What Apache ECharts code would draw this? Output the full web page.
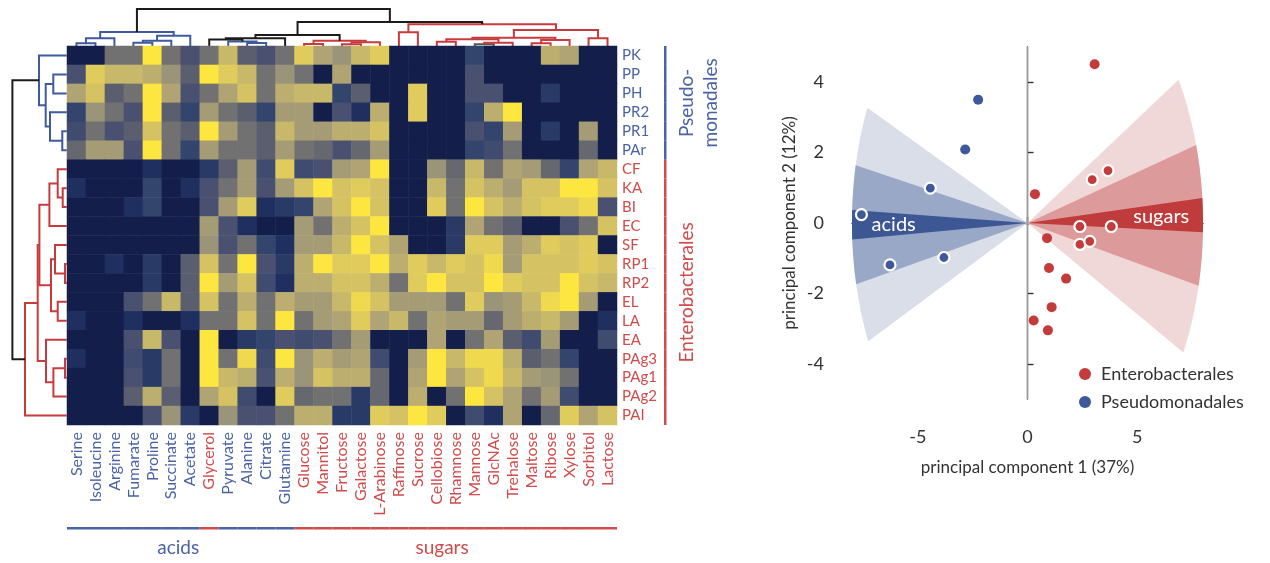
<!DOCTYPE html>
<html>
<head>
<meta charset="utf-8">
<script src="https://cdn.jsdelivr.net/npm/echarts@6/dist/echarts.min.js"></script>
<style>
html, body { margin: 0; padding: 0; background: #fff; }
#main { width: 1270px; height: 563px; }
</style>
</head>
<body>
<div id="main"></div>
<script>
// ---- heatmap: substrates (columns) x strains (rows), growth score 0..10
var substrates = ['Serine', 'Isoleucine', 'Arginine', 'Fumarate', 'Proline', 'Succinate', 'Acetate', 'Glycerol',
    'Pyruvate', 'Alanine', 'Citrate', 'Glutamine', 'Glucose', 'Mannitol', 'Fructose', 'Galactose', 'L-Arabinose',
    'Raffinose', 'Sucrose', 'Cellobiose', 'Rhamnose', 'Mannose', 'GlcNAc', 'Trehalose', 'Maltose', 'Ribose',
    'Xylose', 'Sorbitol', 'Lactose'];
var substrateClass = ['acids', 'acids', 'acids', 'acids', 'acids', 'acids', 'acids', 'sugars',
    'acids', 'acids', 'acids', 'acids', 'sugars', 'sugars', 'sugars', 'sugars', 'sugars',
    'sugars', 'sugars', 'sugars', 'sugars', 'sugars', 'sugars', 'sugars', 'sugars', 'sugars',
    'sugars', 'sugars', 'sugars'];
var strains = ['PK', 'PP', 'PH', 'PR2', 'PR1', 'PAr', 'CF', 'KA', 'BI', 'EC', 'SF', 'RP1', 'RP2', 'EL', 'LA', 'EA',
    'PAg3', 'PAg1', 'PAg2', 'PAI'];
var strainOrder = ['Pseudomonadales', 'Pseudomonadales', 'Pseudomonadales', 'Pseudomonadales', 'Pseudomonadales',
    'Pseudomonadales', 'Enterobacterales', 'Enterobacterales', 'Enterobacterales', 'Enterobacterales',
    'Enterobacterales', 'Enterobacterales', 'Enterobacterales', 'Enterobacterales', 'Enterobacterales',
    'Enterobacterales', 'Enterobacterales', 'Enterobacterales', 'Enterobacterales', 'Enterobacterales'];

var growth = [
    [0, 0, 5, 5, 10, 5, 3, 5, 8, 4, 3, 5, 9, 7, 6, 8, 9, 0, 0, 0, 0, 2, 0, 0, 0, 7.5, 7, 0, 0],
    [3, 9, 8, 8, 7.5, 6, 4, 10, 9, 8, 5, 6, 5, 0, 7, 0, 0, 0, 0, 0, 0, 3, 0, 0, 0, 0, 0, 0, 0],
    [7, 8.5, 4, 5, 10, 7, 3, 5, 7, 8.5, 5, 7.5, 8, 8, 2, 4, 0, 0, 9, 0, 0, 3, 3, 0, 0, 1.5, 0, 0, 0],
    [2, 6, 5, 3, 10, 4, 2, 6.5, 5, 4, 2, 6.5, 6.5, 0, 3, 1, 7.5, 0, 9, 0, 0, 2, 7.5, 10, 0, 0, 0, 0, 0],
    [2.5, 5, 3, 4, 8.5, 5, 4, 10, 6.5, 5, 4, 8, 6.5, 6.5, 7.5, 7.5, 8.5, 0, 0, 0, 0, 3, 2, 6.5, 0, 1.5, 0, 6.5, 0],
    [4.5, 6.5, 6.5, 3, 10, 5, 2, 6.5, 5, 5, 4, 6.5, 5, 4.5, 3, 4.5, 6.5, 0, 0, 0, 0, 2, 2.5, 5, 0, 0, 0, 4.5, 0],
    [0, 0, 0, 0, 1, 0, 0, 1.5, 4, 6.5, 2.5, 9, 2.5, 3, 6.5, 7, 10, 0, 0, 6, 4.5, 8, 5, 7, 6.5, 4.5, 2, 7, 8],
    [1, 0, 0, 0, 2, 0, 1, 3, 5, 6.5, 3, 6.5, 8.5, 10, 8.5, 9, 8.5, 0, 0, 8, 5, 8.5, 7.5, 6.5, 8.5, 8.5, 10, 10, 8.5],
    [0, 0, 0, 1, 2, 0, 0, 3, 6.5, 9, 1, 1.5, 2, 7, 8.5, 10, 8.5, 0, 0, 9, 5, 10, 8.5, 7.5, 8.5, 9, 9, 9.5, 3],
    [0, 0, 0, 0, 0, 0, 0, 6.5, 3, 1, 0, 0, 6.5, 5, 7.5, 8.5, 10, 0, 0, 0, 1.5, 7, 5, 4, 0, 0, 3, 5, 8.5],
    [0, 0, 0, 0, 0, 0, 0, 6, 3, 5, 2, 1, 6.5, 6.5, 8, 10, 8.5, 7, 0, 0, 1.5, 9, 9, 6.5, 7.5, 9, 8.5, 9, 0],
    [0, 0, 1, 0, 1.5, 0, 4, 8.5, 5, 10, 3, 1.5, 7.5, 10, 9, 9, 10, 7.5, 9, 8, 9, 8.5, 9.5, 6.5, 8.5, 8.5, 8.5, 9, 8.5],
    [0, 0, 0, 0, 1.5, 0, 4, 10, 6.5, 8.5, 2.5, 1, 7.5, 7.5, 8.5, 8.5, 7.5, 5, 9, 10, 8.5, 8.5, 10, 9, 8.5, 8.5, 10, 8.5, 8],
    [0, 0, 0, 3, 5, 8, 4, 8.5, 5, 7.5, 5, 7.5, 6.5, 6.5, 8, 9.5, 8.5, 6.5, 6.5, 6.5, 5, 9, 6, 6.5, 8, 9.5, 10, 6.5, 0],
    [1, 0, 0, 1, 0, 0, 1, 5, 5, 8.5, 5, 10, 5, 6.5, 7, 9, 7, 8, 5, 7, 6.5, 6.5, 4.5, 6.5, 7.5, 8, 6.5, 0, 1],
    [0, 0, 0, 3, 8, 3, 0, 10, 0, 1.5, 2, 3, 2.5, 3, 5, 6.5, 0, 0, 0, 7, 0, 5, 7, 4, 2.5, 6.5, 0, 0, 2.5],
    [1, 0, 0, 2.5, 1.5, 5, 0, 10, 5, 9.5, 2.5, 10, 6, 7.5, 6.5, 7, 2.5, 0, 6.5, 10, 8, 9.5, 9.5, 7.5, 4, 5, 2, 0, 0],
    [0, 0, 0, 3, 1.5, 5, 0, 10, 8, 7.5, 3, 7.5, 6, 8.5, 7.5, 7.5, 4.5, 0, 7, 10, 7, 8.5, 9.5, 8, 6.5, 6, 5, 0, 0],
    [0, 0, 0, 4, 7.5, 4, 0, 7, 8.5, 2.5, 0, 9, 4.5, 5, 5, 1.5, 4.5, 0, 7.5, 0, 5, 10, 8.5, 7, 5, 6.5, 2.5, 0, 0],
    [0, 0, 0, 0, 3, 6, 1.5, 0, 6, 3, 3, 5, 7.5, 7.5, 1.5, 1.5, 9, 8.5, 10, 9, 0, 2.5, 1, 7, 0, 4.5, 9, 7, 8.5]
];

// ---- dendrograms: [childA, childB, height, cluster colour]; new clusters numbered after the leaves
var colLinkage = [
    [0, 1, 2.7, 'blue'], [29, 2, 7.7, 'blue'], [3, 4, 3.3, 'blue'], [31, 5, 5.3, 'blue'], [32, 6, 10.3, 'blue'],
    [30, 33, 14, 'blue'], [9, 10, 3, 'blue'], [8, 35, 4.5, 'blue'], [7, 36, 6.5, 'black'], [37, 11, 7.7, 'black'],
    [12, 13, 2, 'red'], [14, 15, 1.7, 'red'], [40, 16, 3.7, 'red'], [39, 41, 5.3, 'red'], [38, 42, 11, 'black'],
    [17, 18, 13.7, 'red'], [19, 20, 4.3, 'red'], [21, 22, 1.7, 'gray'], [46, 23, 3.3, 'red'], [45, 47, 6.7, 'red'],
    [24, 25, 2.7, 'red'], [49, 26, 6, 'red'], [48, 50, 8.3, 'red'], [27, 28, 7.7, 'red'], [51, 52, 16, 'red'],
    [44, 53, 21.7, 'red'], [43, 54, 24, 'black'], [34, 55, 37, 'black']
];
var rowLinkage = [
    [4, 5, 4.4, 'blue'], [3, 20, 16.7, 'blue'], [1, 2, 13.4, 'blue'], [22, 21, 21, 'blue'], [0, 23, 27.7, 'blue'],
    [7, 8, 4, 'red'], [6, 25, 9, 'red'], [26, 9, 17.3, 'red'], [11, 12, 1.7, 'red'], [10, 28, 11.7, 'red'],
    [13, 14, 9, 'red'], [29, 30, 15.7, 'red'], [27, 31, 27.3, 'red'], [16, 17, 1.7, 'red'], [33, 18, 13.3, 'red'],
    [15, 34, 20.7, 'red'], [32, 35, 29, 'red'], [36, 19, 41.7, 'red'], [24, 37, 54.3, 'black']
];

// ---- PCA scores
var entPoints = [[3.06, 4.51], [3.67, 1.49], [2.95, 1.23], [0.34, 0.82], [2.39, -0.10], [3.82, -0.10], [0.89, -0.43],
    [2.39, -0.61], [2.84, -0.52], [0.98, -1.28], [1.76, -1.58], [1.10, -2.39], [0.28, -2.77], [0.93, -3.05]];
var entMarked = [0, 1, 1, 0, 1, 1, 0, 1, 1, 0, 0, 0, 0, 0];
var pseudoPoints = [[-2.25, 3.50], [-2.84, 2.09], [-4.43, 0.99], [-7.57, 0.24], [-6.27, -1.19], [-3.81, -0.98]];
var pseudoMarked = [0, 0, 1, 1, 1, 1];

// loading fans (direction and half widths in degrees)
var fanNames = ['acids', 'sugars'];
var fanDirection = [180.35, 1.6];
var fanHalfWidth = [[24.5, 12.2, 3.0], [29.0, 14.5, 3.5]];
var fanRadius = 8;

var FONT = 'Lato';
var classColor = { acids: '#4a63a5', sugars: '#d14b4b' };
var groupColor = { Pseudomonadales: '#4a63a5', Enterobacterales: '#d14b4b' };
var linkColor = { blue: '#3f5a9f', red: '#c93a3c', black: '#1c1c1c', gray: '#555555' };
var fanColors = { acids: ['#d9dee9', '#9aa8c8', '#3d5694'], sugars: ['#f0d8d8', '#dd9a9a', '#c03b3c'] };
var cmap = ['#131f4a', '#1f2f60', '#33456d', '#4a5070', '#5a5e6e', '#717171', '#9a9478', '#b0a474',
    '#c8b86a', '#e0cc5c', '#fde63f'];

function dendroSegments(linkage, nLeaves) {
    var pos = [], hgt = [], segs = [];
    for (var i = 0; i < nLeaves; i++) { pos.push(i); hgt.push(0); }
    linkage.forEach(function (l) {
        segs.push([pos[l[0]], hgt[l[0]], pos[l[1]], hgt[l[1]], l[2], l[3]]);
        pos.push((pos[l[0]] + pos[l[1]]) / 2);
        hgt.push(l[2]);
    });
    return segs;
}
var topSegs = dendroSegments(colLinkage, substrates.length);
var leftSegs = dendroSegments(rowLinkage, strains.length);

var heatData = [];
growth.forEach(function (row, r) {
    row.forEach(function (v, c) { heatData.push([c, r, v]); });
});

function pointData(points, marked) {
    return points.map(function (p, i) {
        if (marked[i]) {
            return { value: p, symbolSize: 11, itemStyle: { borderColor: '#fff', borderWidth: 2.2 } };
        }
        return { value: p, symbolSize: 10 };
    });
}

var fanWedges = [];
fanNames.forEach(function (n, f) {
    for (var lv = 0; lv < 3; lv++) fanWedges.push([f, lv]);
});

var chart = echarts.init(document.getElementById('main'));

var option = {
    animation: false,
    textStyle: { fontFamily: FONT },
    grid: [
        { left: 67, top: 6, width: 550, height: 40 },
        { left: 8, top: 46, width: 58.7, height: 379 },
        { left: 67, top: 46, width: 550, height: 379 },
        { left: 852, top: 47, width: 351, height: 352 }
    ],
    xAxis: [
        { gridIndex: 0, type: 'value', min: -0.5, max: 28.5, show: false },
        { gridIndex: 1, type: 'value', min: 0, max: 58.7, inverse: true, show: false },
        {
            gridIndex: 2, type: 'category', data: substrates,
            axisLine: { show: false }, axisTick: { show: false },
            axisLabel: {
                interval: 0, rotate: 90, margin: 7, fontSize: 16, fontFamily: FONT,
                color: function (v, i) { return classColor[substrateClass[i]]; }
            }
        },
        {
            gridIndex: 3, type: 'value', min: -8, max: 8, offset: 18,
            splitLine: { show: false },
            axisLine: { lineStyle: { color: '#333', width: 1.4 } },
            axisTick: { inside: true, length: 6, customValues: [-5, 0, 5], lineStyle: { color: '#333', width: 1.4 } },
            axisLabel: { customValues: [-5, 0, 5], margin: 11, fontSize: 18, color: '#333', fontFamily: FONT },
            name: 'principal component 1 (37%)', nameLocation: 'middle', nameGap: 42,
            nameTextStyle: { fontSize: 17, color: '#333', fontFamily: FONT }
        }
    ],
    yAxis: [
        { gridIndex: 0, type: 'value', min: 0, max: 40, show: false },
        { gridIndex: 1, type: 'value', min: -0.5, max: 19.5, inverse: true, show: false },
        {
            gridIndex: 2, type: 'category', data: strains, inverse: true, position: 'right',
            axisLine: { show: false }, axisTick: { show: false },
            axisLabel: {
                interval: 0, margin: 5, fontSize: 15, fontFamily: FONT,
                color: function (v, i) { return groupColor[strainOrder[i]]; }
            }
        },
        {
            gridIndex: 3, type: 'value', min: -5, max: 5, offset: 19,
            splitLine: { show: false },
            axisLine: { lineStyle: { color: '#333', width: 1.4 } },
            axisTick: { inside: true, length: 6, customValues: [-4, -2, 0, 2, 4], lineStyle: { color: '#333', width: 1.4 } },
            axisLabel: { customValues: [-4, -2, 0, 2, 4], margin: 9, fontSize: 18, color: '#333', fontFamily: FONT },
            name: 'principal component 2 (12%)', nameLocation: 'middle', nameGap: 35,
            nameTextStyle: { fontSize: 17, color: '#333', fontFamily: FONT }
        }
    ],
    visualMap: {
        type: 'continuous', min: 0, max: 10, show: false, seriesIndex: 2,
        inRange: { color: cmap }
    },
    legend: {
        data: ['Enterobacterales', 'Pseudomonadales'],
        orient: 'vertical', left: 1074, top: 360,
        icon: 'circle', itemWidth: 12, itemHeight: 12, itemGap: 10,
        textStyle: { fontSize: 18, color: '#333', fontFamily: FONT, padding: [0, 0, 0, 5] }
    },
    series: [
        {
            type: 'custom', xAxisIndex: 0, yAxisIndex: 0, clip: false, silent: true,
            data: topSegs.map(function (s) { return [s[0], s[4]]; }),
            renderItem: function (params, api) {
                var s = topSegs[params.dataIndex];
                return {
                    type: 'polyline',
                    shape: { points: [api.coord([s[0], s[1]]), api.coord([s[0], s[4]]), api.coord([s[2], s[4]]), api.coord([s[2], s[3]])] },
                    style: { stroke: linkColor[s[5]], lineWidth: 2, fill: null }
                };
            }
        },
        {
            type: 'custom', xAxisIndex: 1, yAxisIndex: 1, clip: false, silent: true,
            data: leftSegs.map(function (s) { return [s[4], s[0]]; }),
            renderItem: function (params, api) {
                var s = leftSegs[params.dataIndex];
                return {
                    type: 'polyline',
                    shape: { points: [api.coord([s[1], s[0]]), api.coord([s[4], s[0]]), api.coord([s[4], s[2]]), api.coord([s[3], s[2]])] },
                    style: { stroke: linkColor[s[5]], lineWidth: 2, fill: null }
                };
            }
        },
        {
            type: 'heatmap', xAxisIndex: 2, yAxisIndex: 2, data: heatData,
            itemStyle: { borderWidth: 0 }
        },
        {
            // class bars below the columns and group bars right of the rows
            type: 'custom', xAxisIndex: 2, yAxisIndex: 2, clip: false, silent: true,
            data: [[0, 0]],
            renderItem: function (params, api) {
                var kids = [];
                var last = strains.length - 1;
                var cs = api.size([1, 1]);
                var bottom = api.coord([0, last])[1] + cs[1] / 2;
                var right = api.coord([substrates.length - 1, 0])[0] + cs[0] / 2;
                var x0 = api.coord([0, 0])[0], x1 = api.coord([1, 0])[0];
                var y0 = api.coord([0, 0])[1], y1 = api.coord([0, 1])[1];
                substrateClass.forEach(function (c, i) {
                    var x = api.coord([i, last])[0];
                    kids.push({ type: 'rect', shape: { x: x - cs[0] / 2, y: bottom + 102, width: cs[0], height: 2.5 }, style: { fill: classColor[c] } });
                });
                strainOrder.forEach(function (g, i) {
                    var y = api.coord([0, i])[1];
                    kids.push({ type: 'rect', shape: { x: right + 47, y: y - cs[1] / 2, width: 2.5, height: cs[1] }, style: { fill: groupColor[g] } });
                });
                ['acids', 'sugars'].forEach(function (c) {
                    var idx = [];
                    substrateClass.forEach(function (k, i) { if (k === c) idx.push(i); });
                    var m = idx.reduce(function (a, b) { return a + b; }, 0) / idx.length;
                    kids.push({ type: 'text', x: x0 + m * (x1 - x0), y: bottom + 123,
                        style: { text: c, fill: classColor[c], font: '19px ' + FONT, align: 'center', verticalAlign: 'middle' } });
                });
                [['Pseudomonadales', 'Pseudo-\nmonadales'], ['Enterobacterales', 'Enterobacterales']].forEach(function (g) {
                    var idx = [];
                    strainOrder.forEach(function (k, i) { if (k === g[0]) idx.push(i); });
                    var m = idx.reduce(function (a, b) { return a + b; }, 0) / idx.length;
                    kids.push({ type: 'text', x: right + 58, y: y0 + m * (y1 - y0), rotation: Math.PI / 2,
                        style: { text: g[1], fill: groupColor[g[0]], font: '19px ' + FONT, lineHeight: 24, align: 'center', verticalAlign: 'top' } });
                });
                return { type: 'group', children: kids };
            }
        },
        {
            type: 'custom', xAxisIndex: 3, yAxisIndex: 3, silent: true, clip: false,
            data: fanWedges.map(function () { return [0, 0]; }),
            renderItem: function (params, api) {
                var w = fanWedges[params.dataIndex];
                var f = w[0], lv = w[1];
                var c = fanDirection[f], h = fanHalfWidth[f][lv];
                var pts = [api.coord([0, 0])];
                for (var k = 0; k <= 48; k++) {
                    var a = (c - h + 2 * h * k / 48) * Math.PI / 180;
                    pts.push(api.coord([fanRadius * Math.cos(a), fanRadius * Math.sin(a)]));
                }
                var kids = [{ type: 'polygon', shape: { points: pts }, style: { fill: fanColors[fanNames[f]][lv] } }];
                if (lv === 2) {
                    var a0 = c * Math.PI / 180;
                    var p = api.coord([6.1 * Math.cos(a0), 6.1 * Math.sin(a0)]);
                    kids.push({ type: 'text', x: p[0], y: p[1],
                        style: { text: fanNames[f], fill: '#fff', font: '20px ' + FONT, align: 'center', verticalAlign: 'middle' } });
                }
                return { type: 'group', children: kids };
            }
        },
        {
            name: 'Enterobacterales', type: 'scatter', xAxisIndex: 3, yAxisIndex: 3,
            itemStyle: { color: '#c43b3b', opacity: 1 },
            data: pointData(entPoints, entMarked),
            markLine: {
                silent: true, symbol: 'none', label: { show: false },
                lineStyle: { color: '#999', width: 1, type: 'solid' },
                data: [{ xAxis: 0 }]
            }
        },
        {
            name: 'Pseudomonadales', type: 'scatter', xAxisIndex: 3, yAxisIndex: 3,
            itemStyle: { color: '#3e5899', opacity: 1 },
            data: pointData(pseudoPoints, pseudoMarked)
        }
    ]
};
chart.setOption(option);
</script>
</body>
</html>
